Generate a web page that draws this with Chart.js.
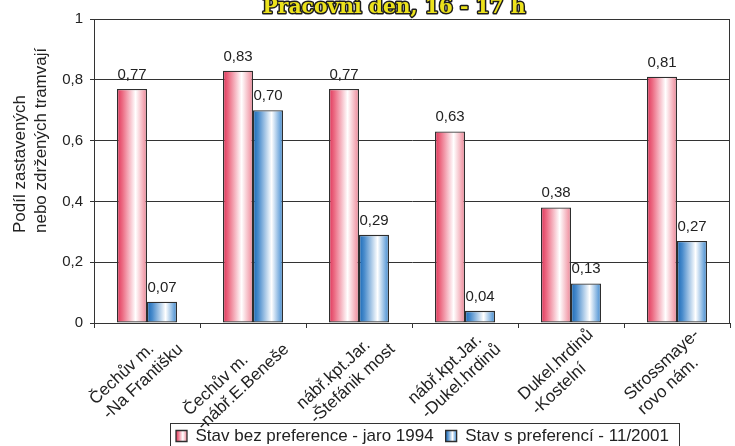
<!DOCTYPE html>
<html><head><meta charset="utf-8">
<script src="https://cdn.jsdelivr.net/npm/chart.js@4"></script>
<style>html,body{margin:0;padding:0;background:#fff;}#wrap{width:735px;height:446px;position:relative;}</style>
</head><body><div id="wrap"><canvas id="c" width="735" height="446"></canvas></div>
<script>
// ---- data ----
const chartTitle = 'Pracovní den, 16 - 17 h';
const categories = [
  ['Čechův m.', '-Na Františku'],
  ['Čechův m.', '-nábř.E.Beneše'],
  ['nábř.kpt.Jar.', '-Štefánik most'],
  ['nábř.kpt.Jar.', '-Dukel.hrdinů'],
  ['Dukel.hrdinů', '-Kostelní'],
  ['Strossmaye-', 'rovo nám.']
];
const seriesNames = ['Stav bez preference - jaro 1994', 'Stav s preferencí - 11/2001'];
const before1994 = [0.77, 0.83, 0.77, 0.63, 0.38, 0.81];
const after2001 = [0.07, 0.70, 0.29, 0.04, 0.13, 0.27];
const yTickLabels = ['0', '0,2', '0,4', '0,6', '0,8', '1'];
const yTitleLines = ['Podíl zastavených', 'nebo zdržených tramvají'];

// ---- styles ----
const FONT = '"Liberation Sans", Arial, sans-serif';
const TEXT = '#222';
const LINE = '#333';
const CAT_PCT = 0.566;
const redStops = [[0, '#e0355a'], [0.18, '#ec6a82'], [0.62, '#ffffff'], [1, '#ee8596']];
const blueStops = [[0, '#1768b6'], [0.18, '#4a8ccc'], [0.62, '#ffffff'], [1, '#3d88cf']];
const LEG_BOX = 11, LEG_PAD = 12, LEG_FONT = 17;
const XLAB_ANGLE = 43 * Math.PI / 180;

function grad(ctx, x0, x1, stops) {
  const g = ctx.createLinearGradient(x0, 0, x1, 0);
  stops.forEach(s => g.addColorStop(s[0], s[1]));
  return g;
}
function barFill(stops, side) {
  return (c) => {
    const chart = c.chart, xs = chart.scales.x;
    if (!xs || c.type !== 'data' || !chart.chartArea) return stops[0][1];
    const center = xs.getPixelForValue(c.dataIndex);
    const w = (xs.width / categories.length) * CAT_PCT / 2;
    const x0 = side === 0 ? center - w : center;
    return grad(chart.ctx, x0, x0 + w, stops);
  };
}
const fmt = v => v.toFixed(2).replace('.', ',');

const customDraw = {
  id: 'customDraw',
  afterLayout(chart) {
    const lg = chart.legend;
    lg.left = 176 - LEG_PAD;
    lg.top = 427.5 - LEG_PAD;
  },
  afterUpdate(chart) {
    const lg = chart.legend;
    lg.legendItems.forEach((it, i) => {
      const hb = lg.legendHitBoxes[i];
      it.fillStyle = grad(chart.ctx, hb.left, hb.left + LEG_BOX, i === 0 ? redStops : blueStops);
    });
  },
  beforeDatasetsDraw(chart) {
    const {ctx, chartArea: a} = chart;
    ctx.save();
    ctx.strokeStyle = LINE; ctx.lineWidth = 1;
    ctx.beginPath();
    ctx.moveTo(Math.round(a.right) - 0.5, a.top);
    ctx.lineTo(Math.round(a.right) - 0.5, a.bottom);
    ctx.stroke();
    ctx.restore();
  },
  afterDatasetsDraw(chart) {
    const ctx = chart.ctx;
    ctx.save();
    ctx.font = '15px ' + FONT;
    ctx.fillStyle = TEXT;
    ctx.textAlign = 'center';
    ctx.textBaseline = 'alphabetic';
    chart.data.datasets.forEach((ds, di) => {
      chart.getDatasetMeta(di).data.forEach((el, i) => {
        ctx.fillText(fmt(ds.data[i]), el.x, el.y - 10);
      });
    });
    ctx.restore();
  },
  afterDraw(chart) {
    const ctx = chart.ctx, a = chart.chartArea, xs = chart.scales.x;
    ctx.save();
    // x category labels (rotated, left-aligned lines)
    ctx.font = '17px ' + FONT;
    ctx.fillStyle = TEXT;
    ctx.textAlign = 'left';
    ctx.textBaseline = 'top';
    chart.data.labels.forEach((lines, i) => {
      const cx = xs.getPixelForValue(i);
      const W = Math.max(...lines.map(l => ctx.measureText(l).width));
      ctx.save();
      ctx.translate(cx + 14, a.bottom + 3);
      ctx.rotate(-XLAB_ANGLE);
      lines.forEach((l, j) => ctx.fillText(l, -W, j * 20));
      ctx.restore();
    });
    // y axis title
    ctx.font = '17px ' + FONT;
    ctx.textBaseline = 'middle';
    ctx.textAlign = 'left';
    [20, 41].forEach((x, j) => {
      ctx.save();
      ctx.translate(x, 233);
      ctx.rotate(-Math.PI / 2);
      ctx.fillText(yTitleLines[j], 0, 0);
      ctx.restore();
    });
    // legend frame
    const hbs = chart.legend.legendHitBoxes;
    if (hbs.length) {
      const l = hbs[0].left - 6, last = hbs[hbs.length - 1];
      const r = last.left + last.width + 10;
      const t = hbs[0].top - 5;
      ctx.strokeStyle = LINE; ctx.lineWidth = 1;
      ctx.strokeRect(Math.round(l) + 0.5, Math.round(t) + 0.5, Math.round(r - l), 40);
    }
    // chart title (outlined)
    let fs = 20;
    ctx.font = 'bold ' + fs + 'px "DejaVu Serif", serif';
    const w = ctx.measureText(chartTitle).width;
    fs = fs * 263 / w;
    ctx.font = 'bold ' + fs.toFixed(1) + 'px "DejaVu Serif", serif';
    ctx.textAlign = 'center';
    ctx.textBaseline = 'alphabetic';
    ctx.lineJoin = 'round';
    ctx.lineWidth = 3;
    ctx.strokeStyle = '#1c1c1c';
    ctx.strokeText(chartTitle, 394, 13);
    ctx.fillStyle = '#ece21c';
    ctx.fillText(chartTitle, 394, 13);
    ctx.restore();
  }
};

new Chart(document.getElementById('c'), {
  type: 'bar',
  data: {
    labels: categories,
    datasets: [
      { label: seriesNames[0], data: before1994, backgroundColor: barFill(redStops, 0),
        borderColor: '#2e2e2e', borderWidth: 1.3, borderSkipped: false,
        categoryPercentage: CAT_PCT, barPercentage: 1 },
      { label: seriesNames[1], data: after2001, backgroundColor: barFill(blueStops, 1),
        borderColor: '#2e2e2e', borderWidth: 1.3, borderSkipped: false,
        categoryPercentage: CAT_PCT, barPercentage: 1 }
    ]
  },
  options: {
    responsive: false,
    devicePixelRatio: 1,
    animation: false,
    layout: { padding: { top: 19, right: 5, left: 0, bottom: 0 } },
    plugins: {
      title: { display: false },
      tooltip: { enabled: false },
      legend: {
        position: 'bottom',
        align: 'start',
        labels: { boxWidth: LEG_BOX, boxHeight: LEG_BOX, padding: LEG_PAD, color: TEXT,
                  font: { family: FONT, size: LEG_FONT } }
      }
    },
    scales: {
      x: {
        offset: true,
        grid: { offset: true, drawOnChartArea: false, drawTicks: true, tickLength: 5, color: LINE, lineWidth: 1 },
        border: { display: true, color: LINE, width: 1 },
        ticks: { display: false },
        afterFit(s) { s.height = 84; }
      },
      y: {
        min: 0, max: 1,
        ticks: { stepSize: 0.2, padding: 7, color: TEXT, font: { family: FONT, size: 15 },
                 callback: (v, i) => yTickLabels[i] },
        grid: { color: LINE, lineWidth: 1, drawTicks: true, tickLength: 4 },
        border: { display: true, color: LINE, width: 1 },
        afterFit(s) { s.width = 94; }
      }
    }
  },
  plugins: [customDraw]
});
</script>
</body></html>
